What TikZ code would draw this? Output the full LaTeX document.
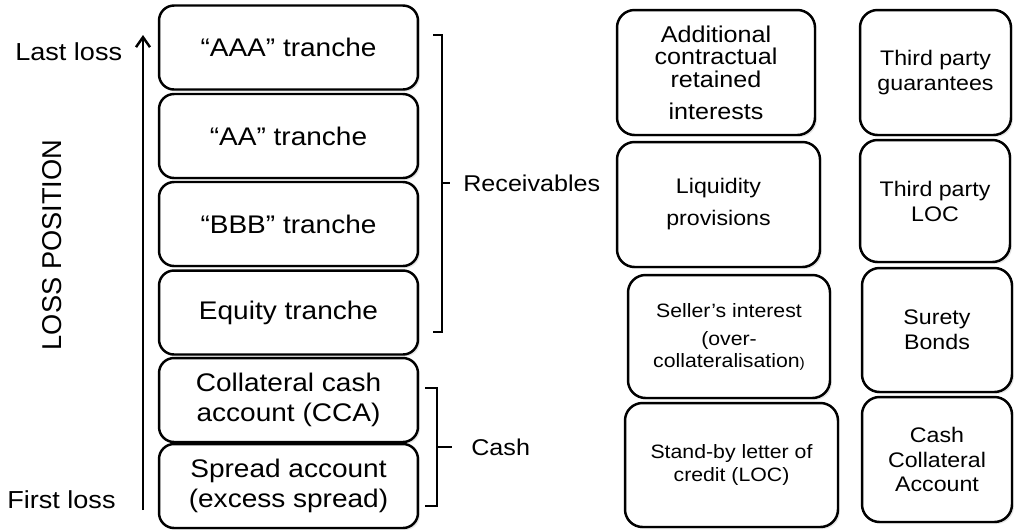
\documentclass[tikz,border=0pt]{standalone}
\usepackage{fontspec}
\setmainfont{Liberation Sans}[FakeStretch=1.1]
\newfontfamily\plainsans{Liberation Sans}
\usetikzlibrary{arrows.meta, shadows}
\tikzstyle{tranche} = [rectangle, 
rounded corners=0.3cm, 
minimum width=5.18cm, 
minimum height=1.68cm, 
align=center, 
draw=black, 
line width=1.4pt, 
fill=white, 
drop shadow={shadow xshift=0.04cm, shadow yshift=-0.04cm, opacity=0.2}, 
font=\fontsize{14.5}{17}\selectfont]
\tikzstyle{support} = [rectangle, 
rounded corners=0.35cm, 
minimum width=3cm, 
minimum height=2.5cm, 
align=center, 
draw=black, 
line width=1.4pt, 
fill=white, 
drop shadow={shadow xshift=0.04cm, shadow yshift=-0.04cm, opacity=0.2}, 
font=\fontsize{12}{14.2}\selectfont]
\tikzstyle{sidetext} = [inner sep=0pt, font=\fontsize{14}{17}\selectfont]
\tikzstyle{bracket} = [line width=1.2pt]
\tikzstyle{arrow} = [line width=1.4pt, -{Straight Barb[length=2mm, width=2.8mm]}]

\begin{document}
\begin{tikzpicture}[x=0.02cm, y=-0.02cm]
    \useasboundingbox (0,0) rectangle (1014,529);

    % Tranches, last loss on top
    \node (aaa) [tranche] at (288.5,47.5) {“AAA” tranche};
    \node (aa) [tranche] at (288.5,136) {“AA” tranche};
    \node (bbb) [tranche] at (288.5,224) {“BBB” tranche};
    \node (equity) [tranche] at (288.5,312.5) {Equity tranche};
    \node (cca) [tranche] at (288.5,400) {Collateral cash\\account (CCA)};
    \node (spread) [tranche] at (288.5,486) {Spread account\\(excess spread)};

    % Loss axis
    \coordinate (firstend) at (143,510);
    \coordinate (lastend) at (143,35);
    \draw [arrow] (firstend) -- (lastend);
    \node (lastloss) [sidetext, anchor=west] at (15,52) {Last loss};
    \node (firstloss) [sidetext, anchor=west] at (7,500) {First loss};
    \node (lossaxis) [sidetext, rotate=90, font=\plainsans\fontsize{15.5}{17}\selectfont] at (52,245) {LOSS POSITION};

    % Brackets
    \draw [bracket] (433,35) -- (442,35) -- (442,332) -- (433,332);
    \draw [bracket] (442,183) -- (450,183);
    \node (receivables) [sidetext, font=\fontsize{13}{15}\selectfont, anchor=west] at (463,183) {Receivables};
    \draw [bracket] (425,388) -- (437,388) -- (437,506) -- (425,506);
    \draw [bracket] (437,447) -- (452,447);
    \node (cash) [sidetext, font=\fontsize{13}{15}\selectfont, anchor=west] at (471,447) {Cash};

    % Credit enhancements
    \node (retained) [support, minimum width=3.96cm, font=\fontsize{13}{13}\selectfont] at (716,72.5) {Additional\\contractual\\retained\\[5pt]interests};
    \node (liquidity) [support, minimum width=4.06cm] at (718.5,204.5) {Liquidity\\[4pt]provisions};
    \node (seller) [support, minimum width=4.04cm, minimum height=2.46cm, font=\fontsize{11}{12.5}\selectfont] at (729,336.5) {Seller’s interest\\[3.5pt](over-\\collateralisation{\fontsize{8}{8}\selectfont)}};
    \node (standby) [support, minimum width=4.26cm, minimum height=2.48cm, font=\fontsize{11}{13.6}\selectfont] at (731.5,465) {Stand-by letter of\\credit (LOC)};

    \node (guarantees) [support, minimum width=3.02cm] at (935.5,72.5) {Third party\\guarantees};
    \node (tploc) [support, minimum height=2.44cm] at (935,201) {Third party\\LOC};
    \node (surety) [support, minimum height=2.48cm] at (937,330) {Surety\\Bonds};
    \node (collateral) [support] at (937,459.5) {Cash\\Collateral\\Account};
\end{tikzpicture}
\end{document}
